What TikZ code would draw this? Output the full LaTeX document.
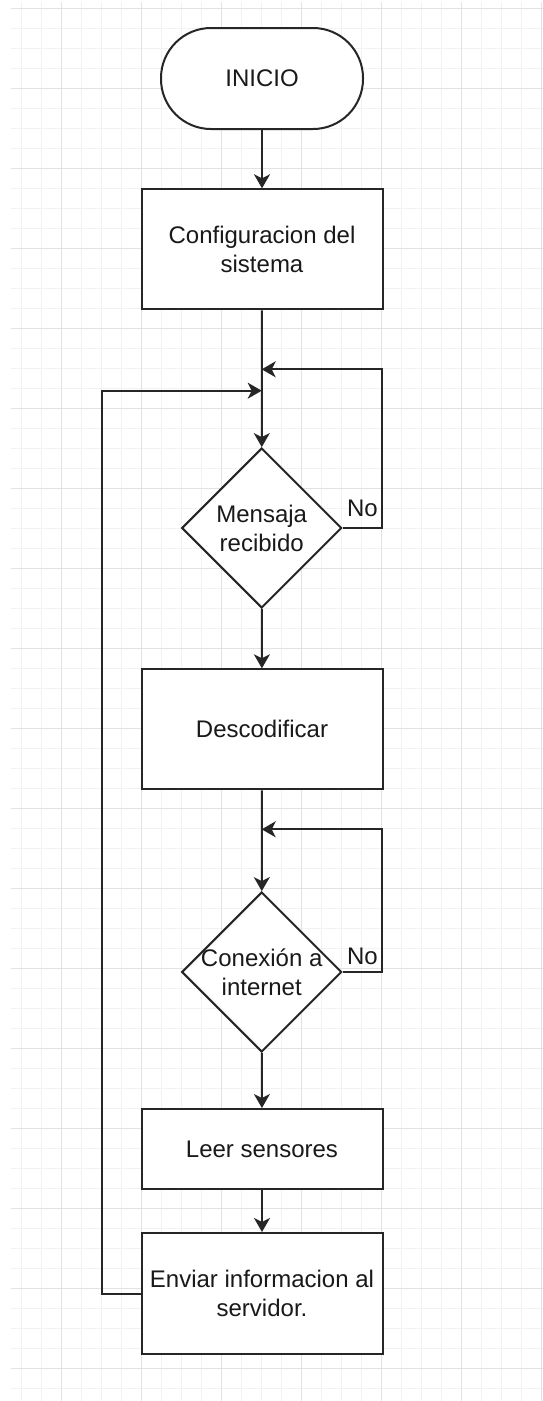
\documentclass[tikz,border=0pt]{standalone}
\usepackage{fontspec}
\setmainfont{Liberation Sans}
\usetikzlibrary{arrows.meta,shapes.geometric}
\begin{document}
\begin{tikzpicture}[x=1pt,y=-1pt,
  minorgrid/.style={draw={rgb,255:red,242;green,242;blue,242}, line width=1pt},
  majorgrid/.style={draw={rgb,255:red,226;green,226;blue,226}, line width=1pt},
  txt/.style={font=\fontsize{24}{29}\selectfont, text=black!90, align=center},
  shp/.style={draw=black!85, line width=2pt, fill=white, inner sep=0pt, txt},
  term/.style={shp, rectangle, rounded corners=50pt, minimum width=202pt, minimum height=101pt},
  proc/.style={shp, rectangle, minimum width=241pt},
  dec/.style={shp, diamond, minimum width=160pt, minimum height=160pt, aspect=1},
  arr/.style={draw=black!85, line width=2pt, -{Stealth[length=14pt,width=16pt,inset=4pt]}},
  conn/.style={draw=black!85, line width=2pt}
]
\useasboundingbox (0,0) rectangle (543,1401);
\fill[white] (0,0) rectangle (543,1401);
% grid
\foreach \i in {0,...,26} \draw[minorgrid] ({21.7+20*\i},2) -- ({21.7+20*\i},1401);
\foreach \i in {0,...,69} \draw[minorgrid] (11,{8.3+20*\i}) -- (543,{8.3+20*\i});
\foreach \i in {0,...,6} \draw[majorgrid] ({61.7+80*\i},2) -- ({61.7+80*\i},1401);
\foreach \i in {0,...,17} \draw[majorgrid] (11,{8.3+80*\i}) -- (543,{8.3+80*\i});

% nodes
\node[term] (inicio) at (262,78.5) {INICIO};
\node[proc, minimum height=120pt] (config) at (262,249.3) {Configuracion del\\sistema};
\node[dec, label={[txt]center:Mensaja\\recibido}] (d1) at (261.7,528) {};
\node[proc, minimum height=120pt] (desc) at (262,729.3) {Descodificar};
\node[dec, label={[txt]center:Conexión a\\internet}] (d2) at (261.7,972) {};
\node[proc, minimum height=80pt] (leer) at (262,1149) {Leer sensores};
\node[proc, minimum height=121pt] (enviar) at (262,1293.5) {Enviar informacion al\\servidor.};

% junction coordinates
\coordinate (j1) at (261.7,369.3);
\coordinate (c1) at (382.3,369.3);
\coordinate (j2) at (261.7,390.7);
\coordinate (c2) at (101.7,390.7);
\coordinate (j3) at (261.7,829.3);
\coordinate (c3) at (382.3,829.3);

% connectors
\draw[arr] (inicio) -- (config);
\draw[arr] (config) -- (d1);
\draw[arr] (d1) -- (desc);
\draw[arr] (desc) -- (d2);
\draw[arr] (d2) -- (leer);
\draw[arr] (leer) -- (enviar);
\draw[arr] (d1.east) -| (c1) -- (j1);
\draw[arr] (d2.east) -| (c3) -- (j3);
\draw[arr] (enviar.west) -| (c2) -- (j2);

% labels
\node[txt] (no1) at (362.5,508) {No};
\node[txt] (no2) at (362.5,956) {No};
\end{tikzpicture}
\end{document}
